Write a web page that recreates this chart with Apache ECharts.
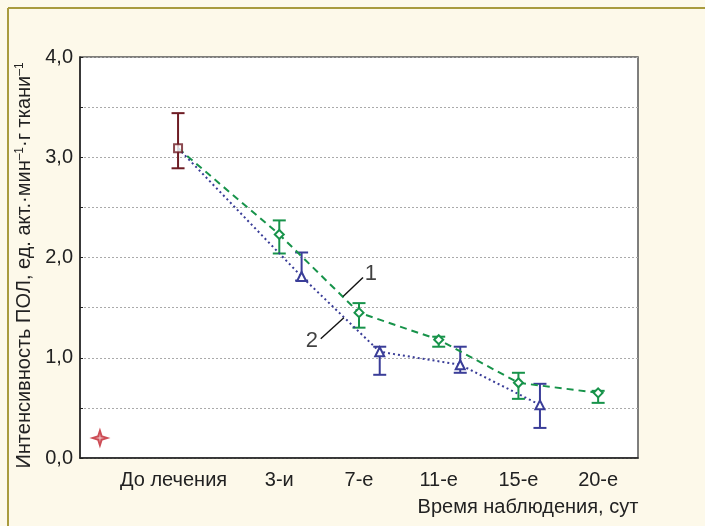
<!DOCTYPE html>
<html><head><meta charset="utf-8">
<script src="https://cdn.jsdelivr.net/npm/echarts@6/dist/echarts.min.js"></script>
<style>html,body{margin:0;padding:0;background:#fdf9ea}#c{width:705px;height:526px}</style>
</head><body><div id="c"></div>
<script>
// ---- data ----
const categories = ['', 'До лечения', '3-и', '7-е', '11-е', '15-е', '20-е'];
const baseX = 1.23, baseMean = 3.09, baseLow = 2.89, baseHigh = 3.44;
const greenX = [2.5, 3.5, 4.5, 5.5, 6.5];
const greenMean = [2.23, 1.45, 1.18, 0.75, 0.65];
const greenLow = [2.04, 1.30, 1.11, 0.59, 0.55];
const greenHigh = [2.37, 1.545, 1.21, 0.85, 0.67];
const blueX = [2.78, 3.76, 4.77, 5.77];
const blueMean = [1.81, 1.06, 0.93, 0.53];
const blueLow = [1.77, 0.83, 0.85, 0.30];
const blueHigh = [2.05, 1.11, 1.11, 0.74];
const starPoint = [0.25, 0.2];
const annot1Line = [[3.55, 1.80], [3.30, 1.61]];
const annot2Line = [[3.02, 1.19], [3.31, 1.40]];
const annotLabels = [['1', 3.65, 1.835], ['2', 2.91, 1.17]];

const cGreen = '#17934a', cBlue = '#3a3d98', cMaroon = '#6e1c24', cStar = '#c0202c';

function errRenderer(color) {
  return function (params, api) {
    const x = api.value(0), lo = api.value(1), hi = api.value(2);
    const p1 = api.coord([x, hi]), p2 = api.coord([x, lo]);
    const w = 6.5;
    const style = { stroke: color, lineWidth: 2, fill: null };
    return { type: 'group', children: [
      { type: 'line', shape: { x1: p1[0], y1: p1[1], x2: p2[0], y2: p2[1] }, style },
      { type: 'line', shape: { x1: p1[0] - w, y1: p1[1], x2: p1[0] + w, y2: p1[1] }, style },
      { type: 'line', shape: { x1: p2[0] - w, y1: p2[1], x2: p2[0] + w, y2: p2[1] }, style }
    ]};
  };
}
function errData(xs, lo, hi) { return xs.map((x, i) => [x, lo[i], hi[i]]); }

const greenLine = [{ value: [baseX, baseMean], symbol: 'none' }].concat(greenX.map((x, i) => [x, greenMean[i]]));
const blueLine = [{ value: [baseX, baseMean], symbol: 'none' }].concat(blueX.map((x, i) => [x, blueMean[i]]));

const chart = echarts.init(document.getElementById('c'), null, { renderer: 'canvas' });
const font = 'Liberation Sans, Arial, sans-serif';
const fs = 20;
chart.setOption({
  animation: false,
  backgroundColor: '#fdf9ea',
  graphic: [
    { type: 'line', shape: { x1: 8, y1: 8, x2: 705, y2: 8 }, style: { stroke: '#a99b3e', lineWidth: 2 } },
    { type: 'line', shape: { x1: 8, y1: 8, x2: 8, y2: 526 }, style: { stroke: '#a99b3e', lineWidth: 2 } }
  ],
  grid: { left: 80, right: 67, top: 57, bottom: 68, show: true, backgroundColor: '#ffffff', borderColor: '#555', borderWidth: 1.5 },
  xAxis: [
    { type: 'category', data: categories, boundaryGap: true,
      axisLine: { lineStyle: { color: '#222', width: 1.5 } },
      axisTick: { alignWithLabel: true, inside: true, length: 3, lineStyle: { color: '#222' } },
      axisLabel: { color: '#222', fontFamily: font, fontSize: fs, margin: 12, interval: 0,
        formatter: v => v === 'До лечения' ? '{a|' + v + '}' : v,
        rich: { a: { padding: [0, 52, 0, 0], fontSize: fs, fontFamily: font, color: '#222' } } },
      splitLine: { show: false },
      name: 'Время наблюдения, сут', nameLocation: 'middle', nameGap: 39,
      nameTextStyle: { color: '#222', fontFamily: font, fontSize: fs, padding: [0, 0, 0, 338] } },
    { type: 'value', min: 0, max: 7, show: false }
  ],
  yAxis: {
    type: 'value', min: 0, max: 4, interval: 0.5,
    axisLine: { show: true, lineStyle: { color: '#222', width: 1.5 } },
    axisTick: { show: true, inside: true, length: 3, lineStyle: { color: '#222' } },
    axisLabel: { color: '#222', fontFamily: font, fontSize: fs, margin: 7,
      formatter: v => (Math.abs(v - Math.round(v)) < 1e-6 ? v.toFixed(1).replace('.', ',') : '') },
    splitLine: { show: true, lineStyle: { color: '#aaa', type: [2, 2], width: 1 } },
    name: '{n|Интенсивность ПОЛ, ед. акт.·мин}{s|–1}{n|·г ткани}{s|–1}',
    nameLocation: 'middle', nameGap: 43,
    nameTextStyle: { color: '#222', fontFamily: font, fontSize: fs, padding: [0, 16, 0, 0],
      rich: { n: { fontSize: fs, fontFamily: font, color: '#222' },
              s: { fontSize: 12, fontFamily: font, color: '#222', verticalAlign: 'top', padding: [0, 0, 9, 0] } } }
  },
  series: [
    { type: 'line', xAxisIndex: 1, data: greenLine, symbol: 'diamond', symbolSize: 9, showAllSymbol: true,
      lineStyle: { color: cGreen, width: 2, type: [7, 5] },
      itemStyle: { color: '#fff', borderColor: cGreen, borderWidth: 2 }, z: 3 },
    { type: 'line', xAxisIndex: 1, data: blueLine, symbol: 'triangle', symbolSize: 9, showAllSymbol: true,
      lineStyle: { color: cBlue, width: 2, type: [2, 3] },
      itemStyle: { color: '#fff', borderColor: cBlue, borderWidth: 2 }, z: 3 },
    { type: 'custom', xAxisIndex: 1, renderItem: errRenderer(cGreen), data: errData(greenX, greenLow, greenHigh), encode: { x: 0, y: [1, 2] }, z: 2 },
    { type: 'custom', xAxisIndex: 1, renderItem: errRenderer(cBlue), data: errData(blueX, blueLow, blueHigh), encode: { x: 0, y: [1, 2] }, z: 2 },
    { type: 'custom', xAxisIndex: 1, renderItem: errRenderer(cMaroon), data: errData([baseX], [baseLow], [baseHigh]), encode: { x: 0, y: [1, 2] }, z: 2 },
    { type: 'scatter', xAxisIndex: 1, data: [[baseX, baseMean]], symbol: 'rect', symbolSize: 8,
      itemStyle: { color: '#fff', borderColor: cMaroon, borderWidth: 2 }, z: 4 },
    { type: 'scatter', xAxisIndex: 1, data: [starPoint], symbolSize: 21,
      symbol: 'path://M0,-10 L2.4,-2.4 L10,0 L2.4,2.4 L0,10 L-2.4,2.4 L-10,0 L-2.4,-2.4 Z',
      itemStyle: { color: cStar }, z: 4 },
    { type: 'scatter', xAxisIndex: 1, data: [starPoint], symbolSize: 9,
      symbol: 'path://M0,-10 L1.5,-1.5 L10,0 L1.5,1.5 L0,10 L-1.5,1.5 L-10,0 L-1.5,-1.5 Z',
      itemStyle: { color: '#f8d8da' }, z: 5 },
    { type: 'line', xAxisIndex: 1, data: annot1Line, symbol: 'none', lineStyle: { color: '#111', width: 1.4 }, z: 3 },
    { type: 'line', xAxisIndex: 1, data: annot2Line, symbol: 'none', lineStyle: { color: '#111', width: 1.4 }, z: 3 },
    { type: 'scatter', xAxisIndex: 1, data: annotLabels.map(a => ({ name: a[0], value: [a[1], a[2]] })), symbolSize: 0,
      label: { show: true, position: 'inside', formatter: p => p.name, color: '#111', fontFamily: font, fontSize: 22 }, z: 5 }
  ]
});
</script>
</body></html>
